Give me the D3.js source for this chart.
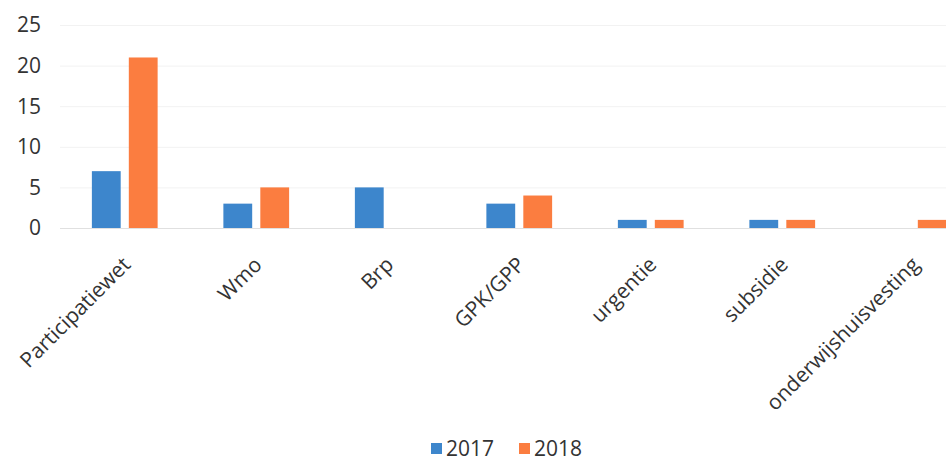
<!DOCTYPE html>
<html>
<head>
<meta charset="utf-8">
<script src="https://cdn.jsdelivr.net/npm/d3@7"></script>
<style>
    body { margin: 0; background: #fff; }
    svg { display: block; font-family: 'Open Sans', sans-serif; }
    .tick-label { fill: #333; font-size: 21px; }
    .cat-label { fill: #333; font-size: 21px; }
    .legend-label { fill: #333; font-size: 21px; }
</style>
</head>
<body>
<div id="chart"></div>
<script>
var CATEGORIES = ['Participatiewet', 'Wmo', 'Brp', 'GPK/GPP', 'urgentie', 'subsidie', 'onderwijshuisvesting']
var YEARS = ['2017', '2018']
var VALUES_2017 = [7, 3, 5, 3, 1, 1, null]
var VALUES_2018 = [21, 5, null, 4, 1, 1, 1]
var Y_TICKS = [0, 5, 10, 15, 20, 25]
var COLORS = { '2017': '#3d86cc', '2018': '#fb7d40' }

var width = 946
var height = 461

var svg = d3.select('#chart')
    .append('svg')
    .attr('width', width)
    .attr('height', height)

var x0 = d3.scaleBand()
    .domain(CATEGORIES)
    .range([59, 979.5])
    .paddingInner(0.5)
    .paddingOuter(0.25)

var x1 = d3.scaleBand()
    .domain(YEARS)
    .range([0, x0.bandwidth()])
    .paddingInner(0.22)

var y = d3.scaleLinear()
    .domain([0, 25])
    .range([228, 25])

// faint gridlines
svg.append('g')
    .selectAll('line')
    .data(Y_TICKS)
    .enter().append('line')
    .attr('x1', 60)
    .attr('x2', width)
    .attr('y1', function (d) { return y(d) + 0.5 })
    .attr('y2', function (d) { return y(d) + 0.5 })
    .attr('stroke', function (d) { return d === 0 ? '#e0e0e0' : '#f2f2f2' })
    .attr('stroke-width', 1)

svg.append('g')
    .selectAll('text')
    .data(Y_TICKS)
    .enter().append('text')
    .attr('class', 'tick-label')
    .attr('x', 41)
    .attr('y', function (d) { return y(d) })
    .attr('dy', '0.35em')
    .attr('text-anchor', 'end')
    .text(function (d) { return d })

var rows = CATEGORIES.map(function (c, i) {
    return { category: c, values: [
        { year: '2017', value: VALUES_2017[i] },
        { year: '2018', value: VALUES_2018[i] }
    ] }
})

var groups = svg.selectAll('.group')
    .data(rows)
    .enter().append('g')
    .attr('class', 'group')
    .attr('transform', function (d) { return 'translate(' + x0(d.category) + ',0)' })

groups.selectAll('rect')
    .data(function (d) { return d.values.filter(function (v) { return v.value != null }) })
    .enter().append('rect')
    .attr('x', function (d) { return x1(d.year) })
    .attr('width', x1.bandwidth())
    .attr('y', function (d) { return y(d.value) })
    .attr('height', function (d) { return y(0) - y(d.value) })
    .attr('fill', function (d) { return COLORS[d.year] })

svg.append('g')
    .selectAll('text')
    .data(CATEGORIES)
    .enter().append('text')
    .attr('class', 'cat-label')
    .attr('text-anchor', 'end')
    .attr('transform', function (d) {
        var cx = x0(d) + x0.bandwidth() / 2
        return 'translate(' + (cx + 7) + ',266) rotate(-45)'
    })
    .text(function (d) { return d })

// legend
var legend = svg.append('g')
    .attr('transform', 'translate(431,449)')

var items = legend.selectAll('g')
    .data(YEARS)
    .enter().append('g')
    .attr('transform', function (d, i) { return 'translate(' + (i * 88) + ',0)' })

items.append('rect')
    .attr('x', 0)
    .attr('y', -6)
    .attr('width', 11)
    .attr('height', 11)
    .attr('fill', function (d) { return COLORS[d] })

items.append('text')
    .attr('class', 'legend-label')
    .attr('x', 15)
    .attr('y', 0)
    .attr('dy', '0.35em')
    .text(function (d) { return d })
</script>
</body>
</html>
